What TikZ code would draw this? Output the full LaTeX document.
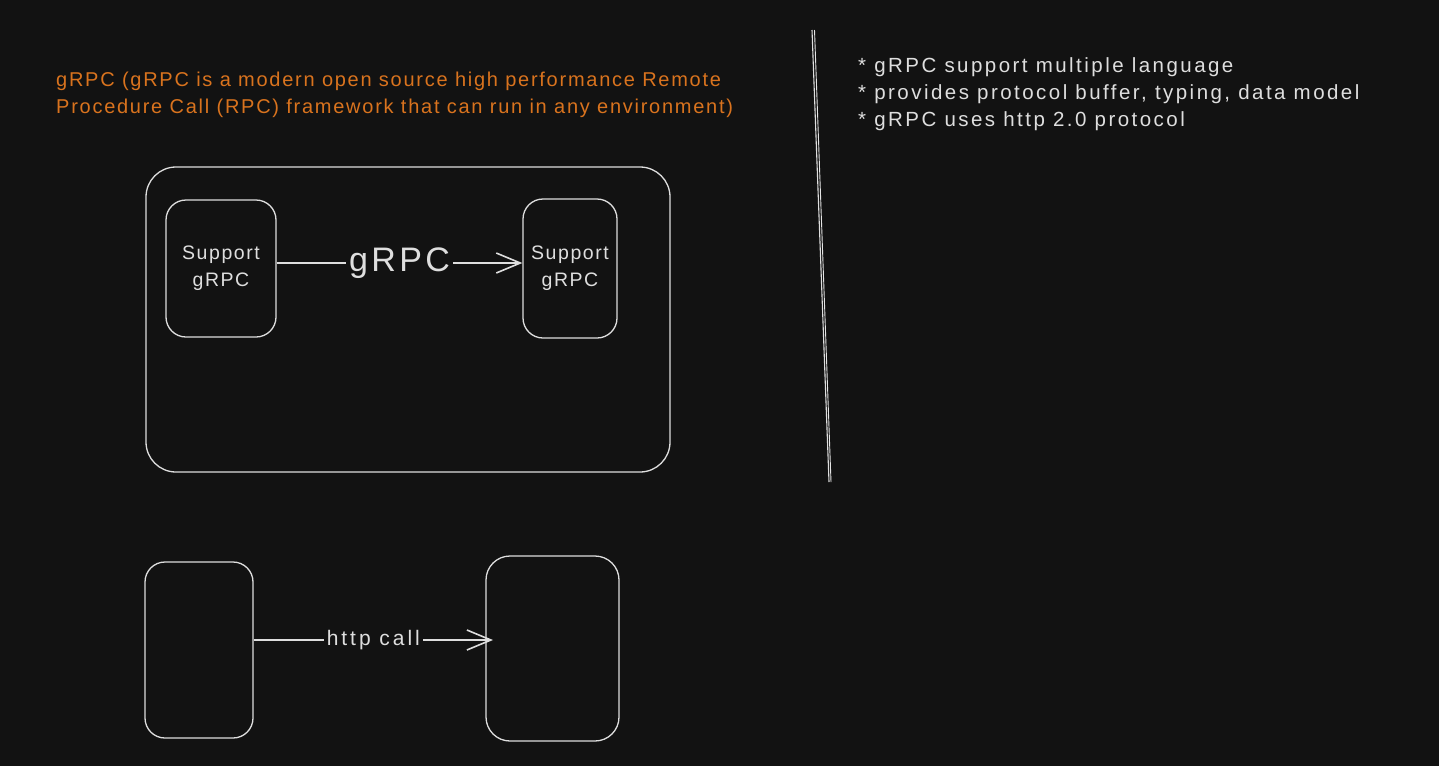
\documentclass[tikz,border=0pt]{standalone}
\usepackage{fontspec}
\setmainfont{Liberation Sans}[LetterSpace=10]
\usetikzlibrary{arrows.meta}
\definecolor{bg}{RGB}{18,18,18}
\definecolor{ink}{RGB}{222,222,222}
\definecolor{note}{RGB}{217,115,30}
\tikzset{
  box/.style={draw=ink, line width=1.3pt, rounded corners=#1, inner sep=0pt, fill=bg},
  box/.default=20pt,
  conn/.style={draw=ink, line width=1.6pt, -{Straight Barb[length=24pt,width=20pt,line width=1.6pt]}},
  lbl/.style={fill=bg, text=ink, inner sep=3pt},
  txt/.style={text=ink, anchor=west, inner sep=0pt, align=left}
}
\begin{document}
\begin{tikzpicture}[x=1pt,y=-1pt]
\fill[bg] (0,0) rectangle (1439,766);
\useasboundingbox (0,0) rectangle (1439,766);

% orange description
\node[text=note, anchor=north west, inner sep=0pt, align=left, font=\fontsize{20}{27}\selectfont\addfontfeatures{LetterSpace=8.7}] (desc) at (56,72)
  {gRPC (gRPC is a modern open source high performance Remote\\Procedure Call (RPC) framework that can run in any environment)};

% outer container
\node[box=30pt, minimum width=524pt, minimum height=305pt] (outer) at (408,319.5) {};

% inner boxes
\node[box=20pt, minimum width=110pt, minimum height=137pt, text=ink, align=center, font=\fontsize{19.5}{27}\selectfont\addfontfeatures{LetterSpace=8}] (sa) at (221,268.5) {Support\\gRPC};
\node[box=20pt, minimum width=94pt, minimum height=139pt, text=ink, align=center, font=\fontsize{19.5}{27}\selectfont\addfontfeatures{LetterSpace=8}] (sb) at (570,268.5) {Support\\gRPC};

\draw[conn] (sa.east |- 0,263) -- node[lbl, font=\fontsize{34}{36}\selectfont] {gRPC} (sb.west |- 0,263);

% divider
\coordinate (dtop) at (812,30);
\coordinate (dbot) at (829,482);
\draw[ink, line width=1.1pt] (dtop) -- (dbot);
\draw[ink!80, line width=0.9pt] ([xshift=2.5pt]dtop) -- ([xshift=2pt]dbot);

% bullets
\node[txt, font=\fontsize{20.5}{27}\selectfont\addfontfeatures{LetterSpace=12}, anchor=north west] (bul) at (858,57)
  {* gRPC support multiple language\\* provides protocol buffer, typing, data model\\* gRPC uses http 2.0 protocol};

% bottom boxes
\node[box=20pt, minimum width=108pt, minimum height=176pt] (ba) at (199,650) {};
\node[box=24pt, minimum width=133pt, minimum height=185pt] (bb) at (552.5,648.5) {};
\coordinate (bbin) at (493,640);
\draw[conn] (ba.east |- 0,640) -- node[lbl, font=\fontsize{21}{22}\selectfont\addfontfeatures{LetterSpace=14}] {http call} (bbin);
\end{tikzpicture}
\end{document}
